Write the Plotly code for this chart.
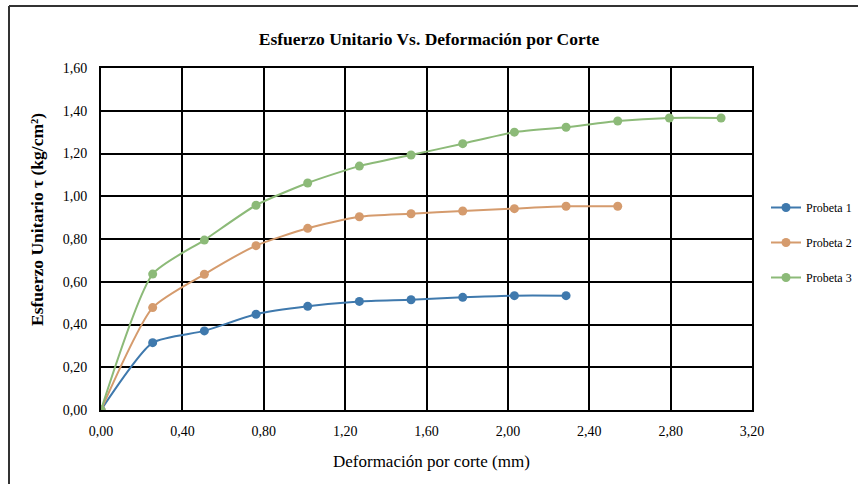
import plotly.graph_objects as go

x_mm = [0.0, 0.254, 0.508, 0.762, 1.016, 1.27, 1.524, 1.778, 2.032, 2.286, 2.54, 2.794, 3.048]
probeta1 = [0.0, 0.315, 0.37, 0.448, 0.485, 0.508, 0.516, 0.527, 0.535, 0.535]
probeta2 = [0.0, 0.479, 0.635, 0.769, 0.85, 0.904, 0.918, 0.931, 0.942, 0.953, 0.953]
probeta3 = [0.0, 0.636, 0.795, 0.958, 1.062, 1.141, 1.193, 1.246, 1.30, 1.323, 1.352, 1.366, 1.366]
names = ["Probeta 1", "Probeta 2", "Probeta 3"]
colors = ["#3f79ad", "#d59b6d", "#8cba78"]
x_ticks = [0, 0.4, 0.8, 1.2, 1.6, 2.0, 2.4, 2.8, 3.2]
y_ticks = [0, 0.2, 0.4, 0.6, 0.8, 1.0, 1.2, 1.4, 1.6]

FONT = "Liberation Serif"
W, H = 858, 484
ML, MR, MT, MB = 101, 106, 68, 74

fig = go.Figure()
for i, (name, ys, c) in enumerate(zip(names, [probeta1, probeta2, probeta3], colors)):
    fig.add_trace(go.Scatter(
        x=x_mm[:len(ys)], y=ys, name=name, mode="lines+markers",
        line=dict(color=c, width=2, shape="spline", smoothing=0.6),
        marker=dict(color=c, size=9),
        legendgroup=f"g{i}",
    ))

plot_w = W - ML - MR
plot_h = H - MT - MB
def px_x(p):
    return (p - ML) / plot_w
def px_y(p):
    return (H - MB - p) / plot_h

fig.update_layout(
    width=W, height=H,
    separators=",.",
    paper_bgcolor="white", plot_bgcolor="white",
    margin=dict(l=ML, r=MR, t=MT, b=MB, autoexpand=False),
    font=dict(family=FONT, color="black", size=14),
    title=dict(text="<b>Esfuerzo Unitario Vs. Deformación por Corte</b>",
               x=0.5, xanchor="center", y=1 - 39 / H, yanchor="middle",
               font=dict(family=FONT, size=17.5, color="black")),
    showlegend=True,
    legend=dict(x=px_x(766), y=px_y(193), xanchor="left", yanchor="top",
                font=dict(family=FONT, size=12, color="black"),
                tracegroupgap=16, bgcolor="rgba(0,0,0,0)"),
    xaxis=dict(range=[0, 3.2], tickvals=x_ticks, tickformat=".2f",
               showgrid=True, gridcolor="black", gridwidth=2,
               showline=True, linecolor="black", linewidth=2, mirror=True,
               zeroline=False, ticks="", ticklen=0, ticklabelstandoff=7,
               tickfont=dict(family=FONT, size=14)),
    yaxis=dict(range=[0, 1.6], tickvals=y_ticks, tickformat=".2f",
               showgrid=True, gridcolor="black", gridwidth=2,
               showline=True, linecolor="black", linewidth=2, mirror=True,
               zeroline=False, ticks="", ticklen=0, ticklabelstandoff=9,
               tickfont=dict(family=FONT, size=14)),
    annotations=[
        dict(text="Deformación por corte (mm)", xref="paper", yref="paper",
             x=px_x(432), y=px_y(461), xanchor="center", yanchor="middle",
             showarrow=False, font=dict(family=FONT, size=17, color="black")),
        dict(text="<b>Esfuerzo Unitario τ (kg/cm²)</b>", xref="paper", yref="paper",
             x=px_x(37), y=px_y(220), xanchor="center", yanchor="middle",
             textangle=-90, showarrow=False,
             font=dict(family=FONT, size=17.5, color="black")),
    ],
)

# outer chart frame (top and left edges visible in reference)
fig.add_shape(type="line", xref="paper", yref="paper",
              x0=px_x(9), x1=px_x(W), y0=px_y(6), y1=px_y(6),
              line=dict(color="#333333", width=2))
fig.add_shape(type="line", xref="paper", yref="paper",
              x0=px_x(9), x1=px_x(9), y0=px_y(6), y1=px_y(H),
              line=dict(color="#333333", width=2))

fig.write_html("out.html", config={"displayModeBar": False},
               post_script="document.body.style.margin='0';")
